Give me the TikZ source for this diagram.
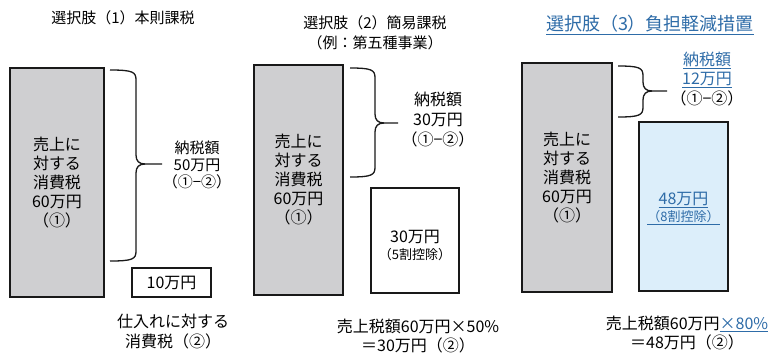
\documentclass[tikz,border=0pt]{standalone}
\usepackage{fontspec}
\setmainfont{Noto Sans CJK JP}
\definecolor{boxgray}{RGB}{207,207,209}
\definecolor{tblue}{RGB}{46,108,168}
\definecolor{lblue}{RGB}{220,238,250}
\definecolor{edge}{RGB}{25,25,25}
\newcommand\mybracepath[6]{% x0 xv xt ytop ymid ybot
  \draw[bracestyle] (#1,#4) .. controls ({#2-3},#4) and (#2,{#4+2}) .. (#2,{#4+10}) -- (#2,{#5-9}) .. controls (#2,{#5-3}) and ({#2+3},#5) .. ({#2+9},#5) -- (#3,#5);
  \draw[bracestyle] ({#2+9},#5) .. controls ({#2+3},#5) and (#2,{#5+3}) .. (#2,{#5+9}) -- (#2,{#6-10}) .. controls (#2,{#6-2}) and ({#2-3},#6) .. (#1,#6);
}
\tikzset{
  bracestyle/.style={draw=edge, line width=1.3pt},
  boxbase/.style={draw=edge, line width=1.2pt, inner sep=0pt, align=center, font=\fontsize{16}{19}\selectfont},
  graybox/.style={boxbase, fill=boxgray},
  whitebox/.style={boxbase, fill=white},
  bluebox/.style={boxbase, fill=lblue},
  txt/.style={align=center, inner sep=0pt, font=\fontsize{16}{19}\selectfont},
  txtsmall/.style={align=center, inner sep=0pt, font=\fontsize{14}{17}\selectfont},
  txttiny/.style={align=center, inner sep=0pt, font=\fontsize{13}{16}\selectfont},
  titlefont/.style={align=center, inner sep=0pt, font=\fontsize{15}{20}\selectfont},
}
\begin{document}
\begin{tikzpicture}[x=1pt, y=-1pt]
\useasboundingbox[fill=white] (0,0) rectangle (777,354);

% ---------- Panel 1 ----------
\node[titlefont] (title1) at (123,18) {選択肢（1）本則課税};
\node[graybox, minimum width=94pt, minimum height=229pt] (g1) at (57,182.5) {売上に\\対する\\消費税\\60万円\\（①）};
\mybracepath{110}{136}{162}{70}{164}{261}
\node[txtsmall, font=\fontsize{15}{17}\selectfont] (n1) at (197,165) {納税額\\50万円\\（①−②）};
\node[whitebox, minimum width=79pt, minimum height=29pt] (w1) at (171.5,282.5) {10万円};
\node[txt, font=\fontsize{16}{20}\selectfont] (b1) at (173,332) {仕入れに対する\\消費税（②）};

% ---------- Panel 2 ----------
\node[titlefont] (title2) at (375,33) {選択肢（2）簡易課税\\（例：第五種事業）};
\node[graybox, minimum width=89pt, minimum height=230pt] (g2) at (298.5,180) {売上に\\対する\\消費税\\60万円\\（①）};
\mybracepath{350}{375}{398}{68}{123}{177}
\node[txt, font=\fontsize{16}{20}\selectfont] (n2) at (438,120) {納税額\\30万円\\（①−②）};
\node[whitebox, minimum width=88pt, minimum height=105pt] (w2) at (415,240.5) {};
\node[txt] (w2a) at (415,237) {30万円};
\node[txttiny] (w2b) at (415,255) {（5割控除）};
\node[txt] (b2) at (418,336) {売上税額60万円×50\%\\＝30万円（②）};

% ---------- Panel 3 ----------
\node[align=center, inner sep=0pt, font=\fontsize{18}{22}\selectfont, text=tblue] (title3) at (650,25) {\underline{選択肢（3）負担軽減措置}};
\node[graybox, minimum width=90pt, minimum height=229pt] (g3) at (567,177.5) {売上に\\対する\\消費税\\60万円\\（①）};
\mybracepath{618}{643}{667}{66}{91}{117}
\node[txt, font=\fontsize{16}{19.5}\selectfont] (n3) at (707,79) {\textcolor{tblue}{\underline{納税額}}\\\textcolor{tblue}{\underline{12万円}}\\（①−②）};
\node[bluebox, minimum width=89pt, minimum height=169pt] (w3) at (683.5,206.5) {};
\node[txt, text=tblue] (w3a) at (683.5,200) {\underline{48万円}};
\node[txttiny, text=tblue] (w3b) at (683.5,218) {\underline{（8割控除）}};
\node[txt] (b3) at (687,333) {売上税額60万円\textcolor{tblue}{\underline{×80\%}}\\＝48万円（②）};
\end{tikzpicture}
\end{document}
